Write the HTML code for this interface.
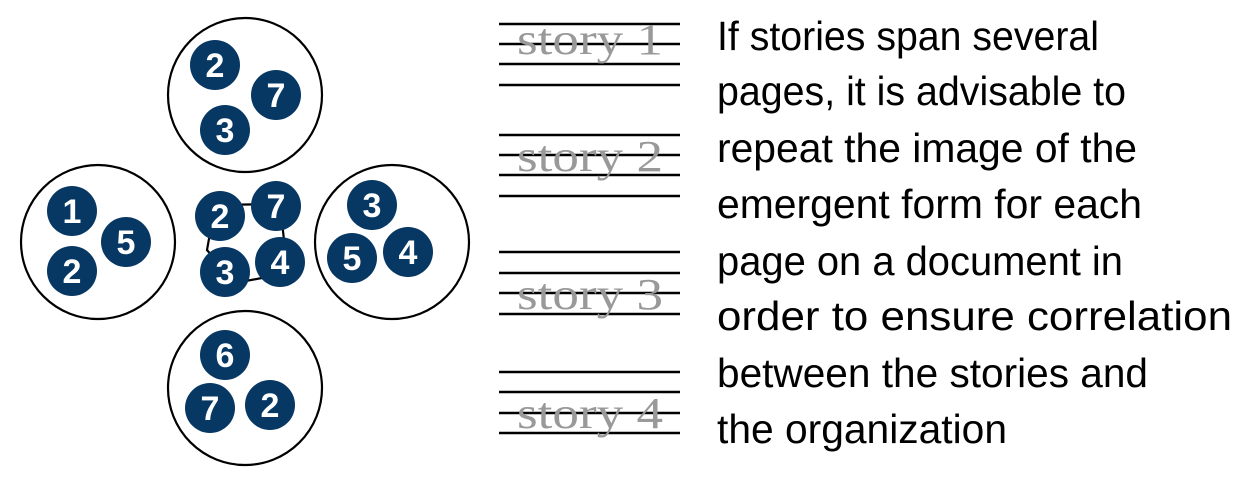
<!DOCTYPE html>
<html><head><meta charset="utf-8"><style>
html,body{margin:0;padding:0;background:#fff;width:1256px;height:482px;overflow:hidden}
</style></head><body>
<svg width="1256" height="482" viewBox="0 0 1256 482" xmlns="http://www.w3.org/2000/svg">
<g fill="none" stroke="#000" stroke-width="2.2">
<circle cx="245" cy="95" r="77"/>
<circle cx="98" cy="242" r="77"/>
<circle cx="392" cy="242" r="77"/>
<circle cx="245" cy="388" r="77"/>
<path d="M215 205 L280 204 L284 240 L262 278 L235 283 L207 250 Z"/>
</g>
<g fill="#073763">
<circle cx="215" cy="65" r="25"/><circle cx="276" cy="95" r="25"/><circle cx="225" cy="130" r="25"/>
<circle cx="72" cy="211" r="25"/><circle cx="126" cy="242" r="25"/><circle cx="72" cy="271" r="25"/>
<circle cx="372" cy="205" r="25"/><circle cx="352" cy="258" r="25"/><circle cx="408" cy="252" r="25"/>
<circle cx="225" cy="355" r="25"/><circle cx="210" cy="408" r="25"/><circle cx="270" cy="405" r="25"/>
<circle cx="220" cy="216" r="25"/><circle cx="276" cy="206" r="25"/><circle cx="225" cy="272" r="25"/><circle cx="280" cy="262" r="25"/>
</g>
<g fill="#fff" font-family="Liberation Sans, sans-serif" font-weight="bold" font-size="34" text-anchor="middle">
<text x="215" y="77">2</text><text x="276" y="107">7</text><text x="225" y="142">3</text>
<text x="72" y="223">1</text><text x="126" y="254">5</text><text x="72" y="283">2</text>
<text x="372" y="217">3</text><text x="352" y="270">5</text><text x="408" y="264">4</text>
<text x="225" y="367">6</text><text x="210" y="420">7</text><text x="270" y="417">2</text>
<text x="220" y="228">2</text><text x="276" y="218">7</text><text x="225" y="284">3</text><text x="280" y="274">4</text>
</g>
<g stroke="#000" stroke-width="2.5">
<line x1="499" y1="24" x2="680" y2="24"/><line x1="499" y1="44" x2="680" y2="44"/><line x1="499" y1="64" x2="680" y2="64"/><line x1="499" y1="85" x2="680" y2="85"/>
<line x1="499" y1="135" x2="680" y2="135"/><line x1="499" y1="155" x2="680" y2="155"/><line x1="499" y1="175" x2="680" y2="175"/><line x1="499" y1="196" x2="680" y2="196"/>
<line x1="499" y1="252" x2="680" y2="252"/><line x1="499" y1="273" x2="680" y2="273"/><line x1="499" y1="293" x2="680" y2="293"/><line x1="499" y1="314" x2="680" y2="314"/>
<line x1="499" y1="372" x2="680" y2="372"/><line x1="499" y1="392" x2="680" y2="392"/><line x1="499" y1="413" x2="680" y2="413"/><line x1="499" y1="433" x2="680" y2="433"/>
</g>
<g fill="#999" font-family="Liberation Serif, serif" font-size="44">
<text x="517" y="54" textLength="146" lengthAdjust="spacingAndGlyphs">story 1</text>
<text x="517" y="171" textLength="146" lengthAdjust="spacingAndGlyphs">story 2</text>
<text x="517" y="309" textLength="146" lengthAdjust="spacingAndGlyphs">story 3</text>
<text x="517" y="428" textLength="146" lengthAdjust="spacingAndGlyphs">story 4</text>
</g>
<g fill="#000" font-family="Liberation Sans, sans-serif" font-size="41">
<text x="717" y="50" textLength="382" lengthAdjust="spacingAndGlyphs">If stories span several</text>
<text x="717" y="105" textLength="409" lengthAdjust="spacingAndGlyphs">pages, it is advisable to</text>
<text x="717" y="162" textLength="420" lengthAdjust="spacingAndGlyphs">repeat the image of the</text>
<text x="717" y="218" textLength="425" lengthAdjust="spacingAndGlyphs">emergent form for each</text>
<text x="717" y="275" textLength="406" lengthAdjust="spacingAndGlyphs">page on a document in</text>
<text x="717" y="330" textLength="515" lengthAdjust="spacingAndGlyphs">order to ensure correlation</text>
<text x="717" y="387" textLength="431" lengthAdjust="spacingAndGlyphs">between the stories and</text>
<text x="717" y="443" textLength="290" lengthAdjust="spacingAndGlyphs">the organization</text>
</g>
</svg>
</body></html>
